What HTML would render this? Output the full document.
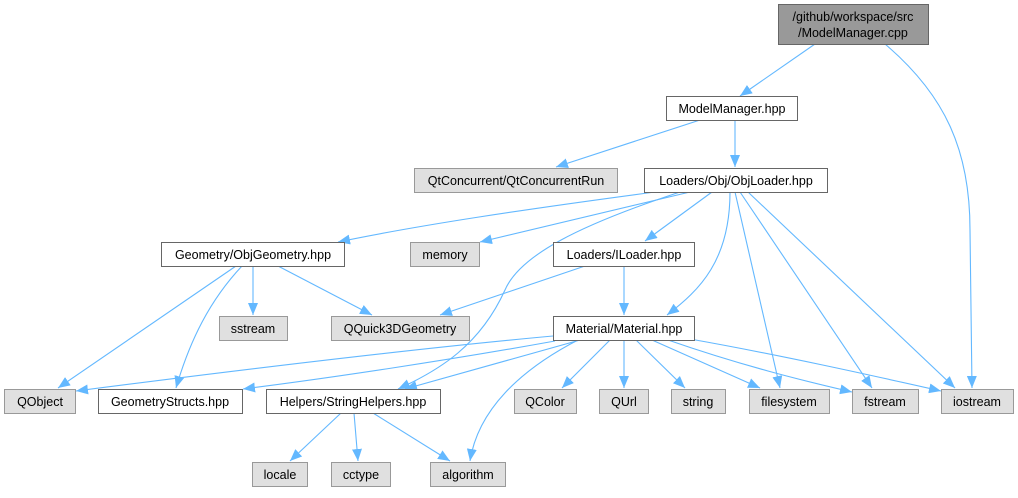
<!DOCTYPE html>
<html><head><meta charset="utf-8"><style>
body{margin:0;background:#fff;width:1018px;height:493px;overflow:hidden}
svg text{font-family:"Liberation Sans",Arial,sans-serif;font-size:12.5px;fill:#000}
</style></head><body>
<svg width="1018" height="493" viewBox="0 0 1018 493" xmlns="http://www.w3.org/2000/svg">
<defs>
<marker id="a" viewBox="0 0 12 10" refX="12" refY="5" markerWidth="12" markerHeight="10" markerUnits="userSpaceOnUse" orient="auto">
<path d="M0,0 L12,5 L0,10 z" fill="#63b8ff"/>
</marker>
</defs>
<g fill="none" stroke="#63b8ff" stroke-width="1.1" marker-end="url(#a)">
<path d="M815,44 L740,96"/>
<path d="M885,44 C945,95 970,150 970,230 L972,388"/>
<path d="M700,120 L556,167"/>
<path d="M735,120 L735,167"/>
<path d="M655,192 C520,210 420,225 338,242"/>
<path d="M690,192 L480,242"/>
<path d="M712,192 L645,241"/>
<path d="M730,192 C730,260 700,290 667,315"/>
<path d="M735,192 L780,388"/>
<path d="M740,192 L872,388"/>
<path d="M748,192 L955,388"/>
<path d="M680,192 C580,225 520,255 505,290 C480,345 440,370 398,389"/>
<path d="M236,266 L58,388"/>
<path d="M242,266 C210,300 190,340 176,388"/>
<path d="M253,266 L253,315"/>
<path d="M278,266 L372,315"/>
<path d="M585,266 L440,315"/>
<path d="M624,266 L624,315"/>
<path d="M553,336 C400,350 200,375 76,391"/>
<path d="M555,341 C450,360 330,378 243,389"/>
<path d="M580,340 L405,389"/>
<path d="M578,340 C520,370 478,410 470,461"/>
<path d="M610,340 L562,388"/>
<path d="M624,340 L624,388"/>
<path d="M636,340 L685,388"/>
<path d="M652,340 L760,388"/>
<path d="M668,340 C740,365 800,380 852,392"/>
<path d="M690,339 C780,355 870,375 941,391"/>
<path d="M341,413 L290,461"/>
<path d="M354,413 L358,461"/>
<path d="M373,413 L450,461"/>
</g>
<g stroke-width="1">
<rect x="778.5" y="4.5" width="150" height="40" fill="#999" stroke="#666"/>
<g fill="#fff" stroke="#666">
<rect x="666.5" y="96.5" width="131" height="24"/>
<rect x="644.5" y="168.5" width="183" height="24"/>
<rect x="161.5" y="242.5" width="183" height="24"/>
<rect x="553.5" y="242.5" width="141" height="24"/>
<rect x="553.5" y="316.5" width="141" height="24"/>
<rect x="98.5" y="389.5" width="144" height="24"/>
<rect x="266.5" y="389.5" width="174" height="24"/>
</g>
<g fill="#e0e0e0" stroke="#999">
<rect x="414.5" y="168.5" width="203" height="24"/>
<rect x="410.5" y="242.5" width="69" height="24"/>
<rect x="219.5" y="316.5" width="68" height="24"/>
<rect x="331.5" y="316.5" width="138" height="24"/>
<rect x="4.5" y="389.5" width="71" height="24"/>
<rect x="514.5" y="389.5" width="62" height="24"/>
<rect x="599.5" y="389.5" width="49" height="24"/>
<rect x="671.5" y="389.5" width="54" height="24"/>
<rect x="749.5" y="389.5" width="80" height="24"/>
<rect x="852.5" y="389.5" width="66" height="24"/>
<rect x="941.5" y="389.5" width="72" height="24"/>
<rect x="252.5" y="462.5" width="55" height="24"/>
<rect x="331.5" y="462.5" width="59" height="24"/>
<rect x="430.5" y="462.5" width="75" height="24"/>
</g>
</g>
<g text-anchor="middle">
<text x="853" y="21">/github/workspace/src</text>
<text x="853" y="37">/ModelManager.cpp</text>
<text x="732" y="113">ModelManager.hpp</text>
<text x="516" y="185">QtConcurrent/QtConcurrentRun</text>
<text x="736" y="185">Loaders/Obj/ObjLoader.hpp</text>
<text x="253" y="259">Geometry/ObjGeometry.hpp</text>
<text x="445" y="259">memory</text>
<text x="624" y="259">Loaders/ILoader.hpp</text>
<text x="253" y="333">sstream</text>
<text x="400" y="333">QQuick3DGeometry</text>
<text x="624" y="333">Material/Material.hpp</text>
<text x="40" y="406">QObject</text>
<text x="170" y="406">GeometryStructs.hpp</text>
<text x="353" y="406">Helpers/StringHelpers.hpp</text>
<text x="545" y="406">QColor</text>
<text x="624" y="406">QUrl</text>
<text x="698" y="406">string</text>
<text x="789" y="406">filesystem</text>
<text x="885" y="406">fstream</text>
<text x="977" y="406">iostream</text>
<text x="280" y="479">locale</text>
<text x="361" y="479">cctype</text>
<text x="468" y="479">algorithm</text>
</g>
</svg>
</body></html>
